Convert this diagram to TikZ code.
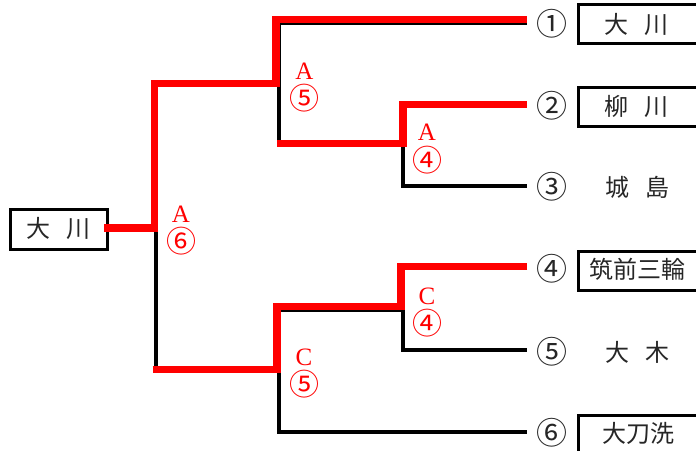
\documentclass[tikz,border=0pt]{standalone}
\usepackage{fontspec}
\newfontfamily\cjk{Noto Sans CJK JP}
\newfontfamily\serifl{Liberation Serif}
\begin{document}
\begin{tikzpicture}[x=1pt,y=-1pt,line join=miter,line cap=butt,
  blk/.style={line width=4.5pt,black},
  redl/.style={line width=7.5pt,red},
  namebox/.style={draw,line width=3pt,inner sep=0pt,anchor=north west},
  team/.style={font=\cjk\fontsize{24}{24}\selectfont,inner sep=0pt,text=black!85},
  num/.style={font=\cjk\fontsize{31}{31}\selectfont,inner sep=0pt,text=black!85},
  lab/.style={red,font=\serifl\fontsize{25}{30.5}\selectfont,inner sep=0pt,align=center,anchor=base}]
\clip (0,0) rectangle (696,450);
\useasboundingbox (0,0) rectangle (696,450);
% boxes
\node[namebox,minimum width=97pt,minimum height=40pt] (b0) at (8.7,208) {};
\node[namebox,minimum width=140pt,minimum height=38.7pt] (b1) at (576.5,3.3) {};
\node[namebox,minimum width=140pt,minimum height=39.3pt] (b2) at (576.5,85.7) {};
\node[namebox,minimum width=140pt,minimum height=39pt] (b4) at (576.5,250) {};
\node[namebox,minimum width=140pt,minimum height=60pt] (b6) at (576.5,413.5) {};
% named line ends
\coordinate (e1) at (527,22.5);
\coordinate (e2) at (527,104);
\coordinate (e3) at (527,186);
\coordinate (e4) at (527,268);
\coordinate (e5) at (527,350);
\coordinate (e6) at (527,432);
% black bracket
\draw[blk] (105,228) -- (156,228);
\draw[blk] (279,85) -- (156,85) -- (156,370) -- (279,370);
\draw[blk] (e1) -- (279,22.5) -- (279,145) -- (403,145);
\draw[blk] (e2) -- (403,104) -- (403,186) -- (e3);
\draw[blk] (403,309.5) -- (279,309.5) -- (279,432) -- (e6);
\draw[blk] (e4) -- (403,268) -- (403,350) -- (e5);
% red winning paths
\draw[redl] (104,228) -- (154.5,228) -- (154.5,83.5) -- (276,83.5) -- (276,19.5) -- (527,19.5);
\draw[redl] (277,143.5) -- (403,143.5) -- (403,104.5) -- (527,104.5);
\draw[redl] (152.5,369.5) -- (277,369.5) -- (277,306.5) -- (401,306.5) -- (401,266.5) -- (527,266.5);
% left team
\node[team] (t0) at (58.5,228) {大\hspace{0.68em}川};
% circled numbers
\node[num] (n1) at (552,24) {①};
\node[num] (n2) at (552,106) {②};
\node[num] (n3) at (552,187) {③};
\node[num] (n4) at (552,269) {④};
\node[num] (n5) at (552,352) {⑤};
\node[num] (n6) at (552,433) {⑥};
% team names
\node[team] (t1) at (636.5,24) {大\hspace{0.68em}川};
\node[team] (t2) at (636.5,106) {柳\hspace{0.68em}川};
\node[team] (t3) at (637.5,187) {城\hspace{0.68em}島};
\node[team] (t4) at (637.5,269) {筑前三輪};
\node[team] (t5) at (637.5,352) {大\hspace{0.68em}木};
\node[team] (t6) at (638,433) {大刀洗};
% red labels
\node[lab] (l6) at (181,252.5) {A\\{\cjk\fontsize{30}{30}\selectfont ⑥}};
\node[lab] (l5) at (304.5,109.5) {A\\{\cjk\fontsize{30}{30}\selectfont ⑤}};
\node[lab] (l4) at (427,171) {A\\{\cjk\fontsize{30}{30}\selectfont ④}};
\node[lab] (m4) at (427,334.5) {C\\{\cjk\fontsize{30}{30}\selectfont ④}};
\node[lab] (m5) at (304,395.5) {C\\{\cjk\fontsize{30}{30}\selectfont ⑤}};
\end{tikzpicture}
\end{document}
